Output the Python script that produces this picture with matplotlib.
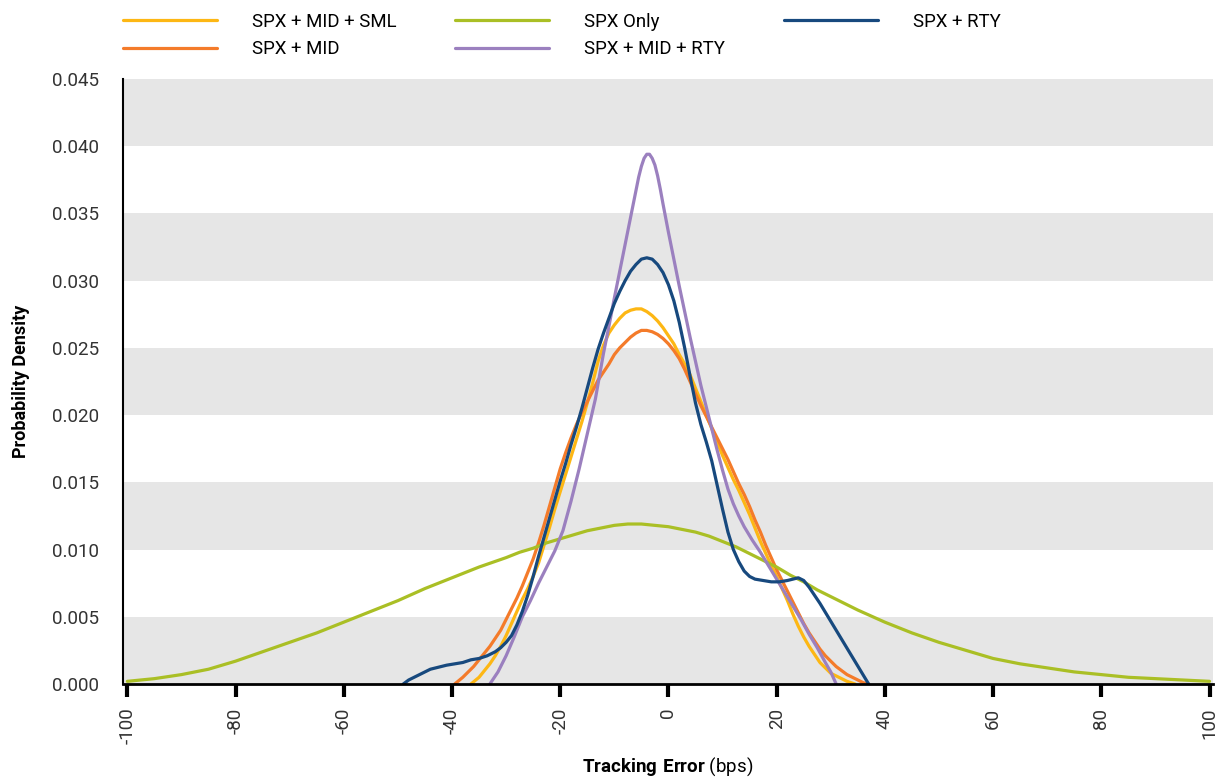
import matplotlib
matplotlib.use("Agg")
import matplotlib.pyplot as plt
from matplotlib.ticker import MultipleLocator, FormatStrFormatter

# values
sml_x = [-36.5, -35, -34, -33, -32, -31, -30, -29, -28, -27, -26, -25, -24, -23, -22, -21, -20, -19, -18,
         -17, -16, -15, -14, -13, -12, -11, -10, -9, -8, -7, -6, -5, -4, -3, -2, -1, 0, 1, 2, 3, 4, 5,
         6, 7, 8, 9, 10, 11, 12, 13, 14, 15, 16, 17, 18, 19, 20, 21, 22, 23, 24, 25, 26, 27, 28, 29,
         30, 31, 32, 33, 34.5]
sml_y = [0.0000, 0.0005, 0.0010, 0.0015, 0.0021, 0.0028, 0.0036, 0.0045, 0.0054, 0.0063, 0.0071, 0.0080,
         0.0090, 0.0103, 0.0116, 0.0130, 0.0143, 0.0156, 0.0169, 0.0182, 0.0195, 0.0209, 0.0224, 0.0240,
         0.0252, 0.0261, 0.0267, 0.0272, 0.0276, 0.0278, 0.0279, 0.0279, 0.0277, 0.0274, 0.0270, 0.0265,
         0.0259, 0.0253, 0.0245, 0.0238, 0.0230, 0.0220, 0.0210, 0.0200, 0.0190, 0.0180, 0.0170, 0.0161,
         0.0152, 0.0144, 0.0135, 0.0126, 0.0116, 0.0106, 0.0097, 0.0088, 0.0080, 0.0071, 0.0062, 0.0052,
         0.0043, 0.0035, 0.0028, 0.0022, 0.0016, 0.0012, 0.0008, 0.0006, 0.0004, 0.0002, 0.0000]

mid_x = [-39.5, -38, -37, -36, -35, -34, -33, -32, -31, -30, -29, -28, -27, -26, -25, -24, -23, -22, -21,
         -20, -19, -18, -17, -16, -15, -14, -13, -12, -11, -10, -9, -8, -7, -6, -5, -4, -3, -2, -1, 0,
         1, 2, 3, 4, 5, 6, 7, 8, 9, 10, 11, 12, 13, 14, 15, 16, 17, 18, 19, 20, 21, 22, 23, 24, 25,
         26, 27, 28, 29, 30, 31, 32, 33, 34, 35, 36, 37]
mid_y = [0.0000, 0.0005, 0.0009, 0.0013, 0.0018, 0.0023, 0.0028, 0.0034, 0.0040, 0.0048, 0.0056, 0.0064,
         0.0073, 0.0083, 0.0093, 0.0105, 0.0118, 0.0132, 0.0146, 0.0160, 0.0172, 0.0183, 0.0193, 0.0202,
         0.0210, 0.0218, 0.0226, 0.0232, 0.0238, 0.0245, 0.0250, 0.0254, 0.0258, 0.0261, 0.0263, 0.0263,
         0.0262, 0.0260, 0.0257, 0.0253, 0.0248, 0.0242, 0.0234, 0.0225, 0.0216, 0.0207, 0.0199, 0.0191,
         0.0183, 0.0175, 0.0167, 0.0158, 0.0149, 0.0141, 0.0132, 0.0122, 0.0113, 0.0103, 0.0094, 0.0085,
         0.0077, 0.0069, 0.0061, 0.0053, 0.0045, 0.0038, 0.0032, 0.0026, 0.0021, 0.0017, 0.0013, 0.0010,
         0.0007, 0.0005, 0.0003, 0.0001, 0.0000]

spx_x = [-100, -95, -90, -85, -80, -75, -70, -65, -60, -55, -50, -45, -40, -35, -30, -27.5, -25, -22.5,
         -20, -17.5, -15, -12.5, -10, -7.5, -5, -2.5, 0, 2.5, 5, 7.5, 10, 12.5, 15, 17.5, 20, 22.5, 25,
         27.5, 30, 35, 40, 45, 50, 55, 60, 65, 70, 75, 80, 85, 90, 95, 100]
spx_y = [0.0002, 0.0004, 0.0007, 0.0011, 0.0017, 0.0024, 0.0031, 0.0038, 0.0046, 0.0054, 0.0062, 0.0071,
         0.0079, 0.0087, 0.0094, 0.0098, 0.0101, 0.0105, 0.0108, 0.0111, 0.0114, 0.0116, 0.0118, 0.0119,
         0.0119, 0.0118, 0.0117, 0.0115, 0.0113, 0.0110, 0.0106, 0.0102, 0.0097, 0.0092, 0.0087, 0.0081,
         0.0076, 0.0070, 0.0065, 0.0055, 0.0046, 0.0038, 0.0031, 0.0025, 0.0019, 0.0015, 0.0012, 0.0009,
         0.0007, 0.0005, 0.0004, 0.0003, 0.0002]

mid_rty_x = [-33, -31.5, -30, -28.5, -27, -25.5, -24, -22.5, -21, -19.5, -18, -16.5, -15, -13.5, -12, -11,
             -10, -9, -8, -7, -6, -5.5, -5, -4.5, -4, -3.5, -3, -2.5, -2, -1.5, -1, 0, 1, 2, 3, 4, 5,
             6, 7, 8, 9, 10, 11, 12, 13, 14, 15.5, 17, 18.5, 20, 21.5, 23, 24.5, 26, 27.5, 29, 30, 31]
mid_rty_y = [0.0000, 0.0009, 0.0021, 0.0035, 0.0050, 0.0062, 0.0075, 0.0087, 0.0099, 0.0114, 0.0136,
             0.0160, 0.0186, 0.0212, 0.0246, 0.0266, 0.0287, 0.0307, 0.0327, 0.0347, 0.0367, 0.0377,
             0.0385, 0.0391, 0.0394, 0.0394, 0.0391, 0.0386, 0.0378, 0.0368, 0.0357, 0.0336, 0.0316,
             0.0296, 0.0277, 0.0258, 0.0240, 0.0222, 0.0206, 0.0190, 0.0174, 0.0159, 0.0145, 0.0134,
             0.0125, 0.0117, 0.0107, 0.0098, 0.0088, 0.0078, 0.0068, 0.0058, 0.0048, 0.0037, 0.0027,
             0.0016, 0.0009, 0.0000]

rty_x = [-49, -48, -47, -46, -45, -44, -43, -42, -41, -39.5, -38, -36.5, -35, -33.5, -32, -31, -30, -29,
         -28, -27, -26, -25, -24, -23, -22, -21, -20, -19, -18, -17, -16, -15, -14, -13, -12, -11, -10,
         -9, -8, -7, -6, -5, -4, -3, -2, -1, 0, 1, 2, 3, 4, 5, 6, 7, 8, 9, 10, 11, 12, 13, 14, 15, 16,
         17.5, 19, 20.5, 22, 23, 24, 25, 26, 27, 28, 29.5, 31, 32.5, 34, 35.5, 37]
rty_y = [0.0000, 0.0003, 0.0005, 0.0007, 0.0009, 0.0011, 0.0012, 0.0013, 0.0014, 0.0015, 0.0016, 0.0018,
         0.0019, 0.0021, 0.0024, 0.0027, 0.0031, 0.0036, 0.0044, 0.0054, 0.0066, 0.0080, 0.0095, 0.0109,
         0.0123, 0.0137, 0.0151, 0.0164, 0.0178, 0.0191, 0.0205, 0.0220, 0.0235, 0.0249, 0.0261, 0.0272,
         0.0283, 0.0292, 0.0300, 0.0307, 0.0312, 0.0316, 0.0317, 0.0316, 0.0312, 0.0306, 0.0297, 0.0285,
         0.0269, 0.0250, 0.0229, 0.0209, 0.0193, 0.0180, 0.0166, 0.0148, 0.0130, 0.0113, 0.0100, 0.0091,
         0.0084, 0.0080, 0.0078, 0.0077, 0.0076, 0.0076, 0.0077, 0.0078, 0.0079, 0.0077, 0.0072, 0.0066,
         0.0060, 0.0050, 0.0040, 0.0030, 0.0020, 0.0010, 0.0000]

x_ticks = [-100, -80, -60, -40, -20, 0, 20, 40, 60, 80, 100]


def main():
    plt.rcParams['font.family'] = ['Roboto', 'DejaVu Sans']
    plt.rcParams['mathtext.fontset'] = 'custom'
    plt.rcParams['mathtext.bf'] = 'Roboto:bold'
    plt.rcParams['mathtext.rm'] = 'Roboto'

    fig = plt.figure(figsize=(12.3, 7.78), dpi=100)
    ax = fig.add_axes([0.1, 0.1208, 0.886, 0.7777])

    for lo in [0.0, 0.010, 0.020, 0.030, 0.040]:
        ax.axhspan(lo, lo + 0.005, color='#e6e6e6', lw=0, zorder=0)

    lw = 2.3
    ax.plot(sml_x, sml_y, color='#fdb714', lw=lw, label='SPX + MID + SML', solid_capstyle='round')
    ax.plot(mid_x, mid_y, color='#f47b2a', lw=lw, label='SPX + MID', solid_capstyle='round')
    ax.plot(spx_x, spx_y, color='#aabf25', lw=lw, label='SPX Only', solid_capstyle='round')
    ax.plot(mid_rty_x, mid_rty_y, color='#9b80bf', lw=lw, label='SPX + MID + RTY', solid_capstyle='round')
    ax.plot(rty_x, rty_y, color='#17497e', lw=lw, label='SPX + RTY', solid_capstyle='round')

    ax.set_xlim(-100.8, 100.6)
    ax.set_ylim(0, 0.045)
    ax.yaxis.set_major_locator(MultipleLocator(0.005))
    ax.yaxis.set_major_formatter(FormatStrFormatter('%.3f'))
    ax.set_xticks(x_ticks)
    ax.set_xticklabels([str(t) for t in x_ticks], rotation=90)

    for s in ['top', 'right']:
        ax.spines[s].set_visible(False)
    ax.spines['left'].set_linewidth(1.5)
    ax.spines['bottom'].set_linewidth(2)
    ax.tick_params(axis='y', length=0, pad=17, labelsize=13.5, labelcolor='#333333')
    ax.tick_params(axis='x', length=9, width=3, pad=8, labelsize=13.5, labelcolor='#333333')

    ax.set_ylabel('Probability Density', fontsize=13, fontweight='bold', labelpad=16)
    ax.set_xlabel(r'$\bf{Tracking\ Error}$ (bps)', fontsize=13.5, labelpad=8)

    fig.legend(loc='upper left', bbox_to_anchor=(0.086, 1.005), ncol=3, frameon=False,
               fontsize=13.4, handlelength=5.05, handletextpad=1.9, columnspacing=3.15,
               labelspacing=0.5)

    fig.savefig('out.png', dpi=100)


if __name__ == '__main__':
    main()
